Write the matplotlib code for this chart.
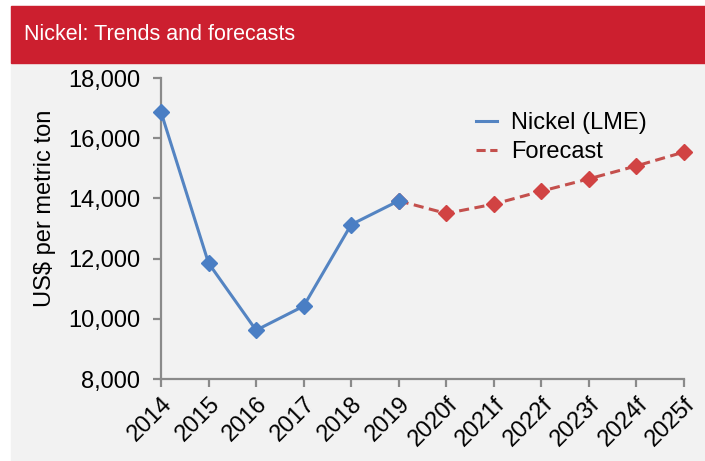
import matplotlib.pyplot as plt
from matplotlib.patches import Rectangle
from matplotlib.lines import Line2D

plt.rcParams['font.family'] = ['Liberation Sans', 'DejaVu Sans']

years = ['2014', '2015', '2016', '2017', '2018', '2019',
         '2020f', '2021f', '2022f', '2023f', '2024f', '2025f']
actual = [16870, 11850, 9620, 10420, 13130, 13920]
forecast = [13920, 13500, 13810, 14240, 14650, 15080, 15540]

blue = '#5484c2'
red = '#c4504d'
axis_grey = '#8a8a8a'
fs = 17

fig = plt.figure(figsize=(7.05, 4.61), dpi=100)
fig.patch.set_facecolor('white')

# grey panel + red title banner
fig.patches.append(Rectangle((11/705, 0), 1 - 11/705, 1 - 6/461,
                             transform=fig.transFigure, color='#f2f2f2', zorder=0))
fig.patches.append(Rectangle((11/705, 1 - 63/461), 1 - 11/705, 57/461,
                             transform=fig.transFigure, color='#cc1f2f', zorder=1))
fig.text(24/705, 1 - 34/461, 'Nickel: Trends and forecasts', color='white',
         fontsize=15.5, va='center', ha='left')

ax = fig.add_axes([161/705, 82/461, 523/705, 301/461])
ax.set_zorder(3)
ax.set_facecolor('none')

x_act = list(range(len(actual)))
x_fc = list(range(len(actual) - 1, len(years)))

ax.plot(x_fc, forecast, color=red, lw=2.2, ls=(0, (3.3, 1.8)), marker='D',
        ms=8, mfc='#d14343', mec='#d14343', zorder=2, clip_on=False)
ax.plot(x_act, actual, color=blue, lw=2.2, marker='D', ms=8,
        mfc='#4a7ec4', mec='#4a7ec4', zorder=3, clip_on=False)

ax.set_xlim(0, len(years) - 1)
ax.set_ylim(8000, 18000)
ax.set_yticks(range(8000, 18001, 2000))
ax.set_yticklabels([f'{v:,}' for v in range(8000, 18001, 2000)])
ax.set_xticks(range(len(years)))
ax.set_xticklabels(years, rotation=45, ha='right', rotation_mode='anchor')

for s in ['top', 'right']:
    ax.spines[s].set_visible(False)
for s in ['left', 'bottom']:
    ax.spines[s].set_color(axis_grey)
    ax.spines[s].set_linewidth(1.6)
ax.tick_params(colors=axis_grey, labelcolor='black', labelsize=fs,
               width=1.6, length=6)
ax.tick_params(axis='y', pad=9)
ax.tick_params(axis='x', pad=4)

fig.text(45/705, 1 - 208/461, 'US$ per metric ton', rotation=90,
         fontsize=fs, va='center', ha='center')

handles = [Line2D([], [], color=blue, lw=2.2),
           Line2D([], [], color=red, lw=2.2, ls=(0, (3, 1.5)))]
ax.legend(handles, ['Nickel (LME)', 'Forecast'], loc='upper left',
          bbox_to_anchor=(0.602, 0.887), frameon=False, fontsize=fs,
          handlelength=0.9, handletextpad=0.6, labelspacing=0.3,
          borderaxespad=0, borderpad=0)

fig.savefig('out.png', dpi=100)
